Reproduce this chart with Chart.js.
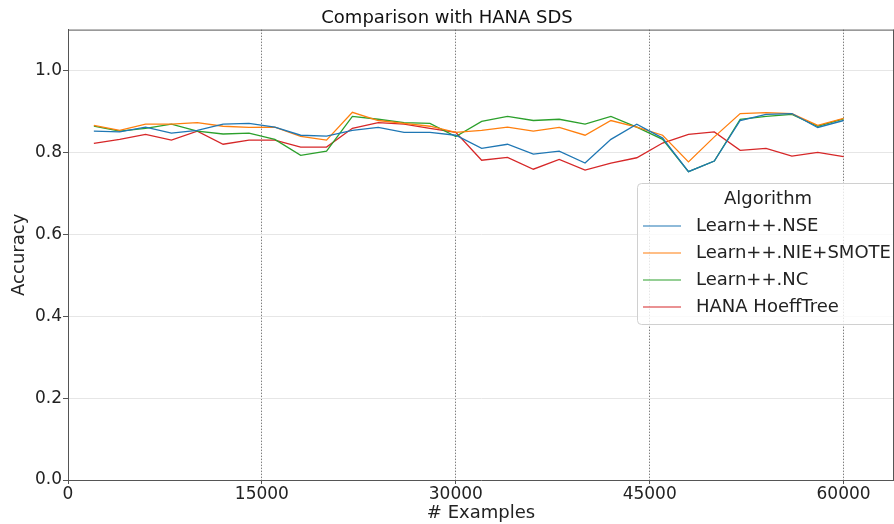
<!DOCTYPE html>
<html>
<head>
<meta charset="utf-8">
<script src="https://cdn.jsdelivr.net/npm/chart.js@4.4.1/dist/chart.umd.min.js"></script>
<style>
  html, body { margin: 0; padding: 0; background: #fff; }
  #wrap { width: 894px; height: 524px; }
</style>
</head>
<body>
<div id="wrap"><canvas id="acc__chart"></canvas></div>
<script>
// values
const examples = [2000, 4000, 6000, 8000, 10000, 12000, 14000, 16000, 18000, 20000,
  22000, 24000, 26000, 28000, 30000, 32000, 34000, 36000, 38000, 40000,
  42000, 44000, 46000, 48000, 50000, 52000, 54000, 56000, 58000, 60000];
const nse = [0.852, 0.850, 0.862, 0.847, 0.854, 0.869, 0.871, 0.862, 0.842, 0.840,
  0.854, 0.861, 0.849, 0.849, 0.842, 0.810, 0.820, 0.796, 0.803, 0.774,
  0.832, 0.869, 0.835, 0.753, 0.779, 0.878, 0.893, 0.895, 0.861, 0.878];
const nieSmote = [0.866, 0.854, 0.869, 0.869, 0.873, 0.864, 0.861, 0.862, 0.839, 0.830,
  0.898, 0.878, 0.871, 0.864, 0.849, 0.854, 0.862, 0.852, 0.861, 0.842,
  0.878, 0.862, 0.842, 0.777, 0.838, 0.895, 0.897, 0.895, 0.866, 0.883];
const nc = [0.864, 0.852, 0.859, 0.869, 0.852, 0.845, 0.847, 0.832, 0.793, 0.803,
  0.888, 0.881, 0.873, 0.871, 0.839, 0.876, 0.888, 0.878, 0.881, 0.869,
  0.888, 0.862, 0.832, 0.753, 0.779, 0.881, 0.888, 0.893, 0.864, 0.882];
const hana = [0.822, 0.832, 0.844, 0.830, 0.852, 0.820, 0.830, 0.830, 0.813, 0.813,
  0.859, 0.873, 0.869, 0.859, 0.849, 0.781, 0.788, 0.759, 0.783, 0.757,
  0.774, 0.787, 0.823, 0.844, 0.850, 0.805, 0.810, 0.791, 0.800, 0.790];

const xTicks = [0, 15000, 30000, 45000, 60000];
const yTicks = [0, 0.2, 0.4, 0.6, 0.8, 1.0];

const FONT = 'DejaVu Sans';
const SPINE = '#555555';

function pts(ys) {
  return ys.map((y, i) => ({ x: examples[i], y: y }));
}

const data = {
  datasets: [{
    label: 'Learn++.NSE',
    borderColor: '#1f77b4',
    data: pts(nse)
  }, {
    label: 'Learn++.NIE+SMOTE',
    borderColor: '#ff7f0e',
    data: pts(nieSmote)
  }, {
    label: 'Learn++.NC',
    borderColor: '#2ca02c',
    data: pts(nc)
  }, {
    label: 'HANA HoeffTree',
    borderColor: '#d62728',
    data: pts(hana)
  }]
};

// matplotlib style legend box sitting inside the plot
const boxLegend = {
  id: 'boxLegend',
  afterDatasetsDraw(chart) {
    const ctx = chart.ctx;
    const x = 637, y = 183, w = 262, h = 141;
    ctx.save();
    ctx.beginPath();
    ctx.roundRect(x + 0.5, y + 0.5, w, h, 4);
    ctx.fillStyle = 'rgba(255,255,255,0.8)';
    ctx.fill();
    ctx.strokeStyle = '#d0d0d0';
    ctx.lineWidth = 1;
    ctx.stroke();
    ctx.fillStyle = '#222';
    ctx.font = '18px "' + FONT + '"';
    ctx.textBaseline = 'middle';
    ctx.textAlign = 'center';
    ctx.fillText('Algorithm', x + w / 2, 199);
    ctx.textAlign = 'left';
    chart.data.datasets.forEach((ds, i) => {
      const ry = 226 + i * 27;
      ctx.strokeStyle = ds.borderColor;
      ctx.lineWidth = 1.2;
      ctx.beginPath();
      ctx.moveTo(643, ry);
      ctx.lineTo(681, ry);
      ctx.stroke();
      ctx.fillText(ds.label, 696, ry);
    });
    ctx.restore();
  },
  afterDraw(chart) {
    // top and right spines
    const a = chart.chartArea;
    const ctx = chart.ctx;
    ctx.save();
    ctx.strokeStyle = SPINE;
    ctx.lineWidth = 1;
    ctx.beginPath();
    ctx.moveTo(a.left, a.top + 0.5);
    ctx.lineTo(a.right, a.top + 0.5);
    ctx.moveTo(a.right - 0.5, a.top);
    ctx.lineTo(a.right - 0.5, a.bottom);
    ctx.stroke();
    ctx.restore();
  }
};

Chart.defaults.font.family = FONT;
Chart.defaults.color = '#222';

const config = {
  type: 'line',
  data,
  options: {
    responsive: true,
    maintainAspectRatio: false,
    animation: false,
    layout: { padding: 0 },
    elements: {
      point: { radius: 0 },
      line: { borderWidth: 1.3, tension: 0 }
    },
    plugins: {
      legend: { display: false },
      tooltip: { enabled: false },
      title: {
        display: true,
        text: 'Comparison with HANA SDS',
        color: '#111',
        font: { size: 18, weight: 'normal' },
        padding: { top: 8, bottom: 0 }
      }
    },
    scales: {
      x: {
        type: 'linear',
        min: 0,
        max: 63900,
        afterBuildTicks: (s) => { s.ticks = xTicks.map(v => ({ value: v })); },
        afterFit: (s) => { s.height = 44; },
        ticks: {
          font: { size: 17 },
          color: '#222',
          padding: 0,
          maxRotation: 0,
          callback: (v) => String(v)
        },
        grid: {
          color: '#808080',
          lineWidth: 1,
          tickLength: 4,
          tickColor: SPINE,
          tickBorderDash: []
        },
        // in v4 border.dash dashes the grid lines, the axis line stays solid
        border: { color: SPINE, dash: [1.5, 1.5] },
        title: {
          display: true,
          text: '# Examples',
          font: { size: 18 },
          color: '#222',
          padding: { top: 0, bottom: 0 }
        }
      },
      y: {
        min: 0,
        max: 1.1,
        afterBuildTicks: (s) => { s.ticks = yTicks.map(v => ({ value: v })); },
        afterFit: (s) => { s.width = 68; },
        ticks: {
          font: { size: 17 },
          color: '#222',
          padding: 1,
          callback: (v) => v.toFixed(1)
        },
        grid: {
          color: '#e6e6e6',
          lineWidth: 1,
          tickLength: 5,
          tickColor: SPINE
        },
        border: { color: SPINE },
        title: {
          display: true,
          text: 'Accuracy',
          font: { size: 18 },
          color: '#222',
          padding: { top: 9, bottom: 0 }
        }
      }
    }
  },
  plugins: [boxLegend]
};

const accChart = new Chart(
  document.getElementById('acc__chart'),
  config
);
</script>
</body>
</html>
